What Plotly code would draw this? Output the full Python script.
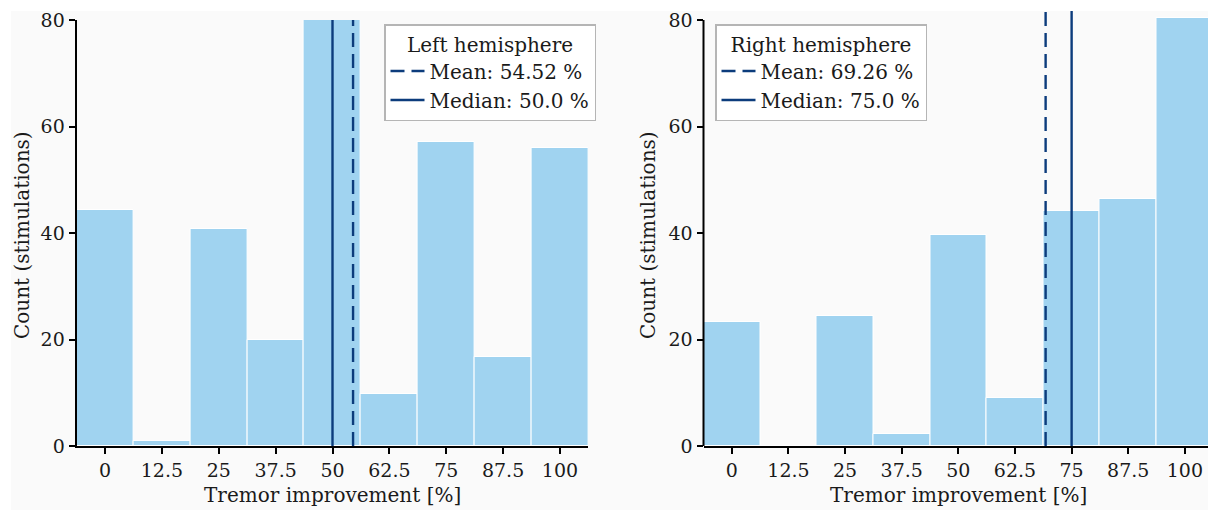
import plotly.graph_objects as go

# ---- data ----
bins = [0, 12.5, 25, 37.5, 50, 62.5, 75, 87.5, 100]
tick_labels = ["0", "12.5", "25", "37.5", "50", "62.5", "75", "87.5", "100"]
left_counts = [44.3, 0.9, 40.8, 19.9, 84.0, 9.8, 57.0, 16.8, 56.0]
right_counts = [23.3, 0.0, 24.4, 2.3, 39.7, 9.1, 44.2, 46.4, 80.4]
left_mean, left_median = 54.52, 50.0
right_mean, right_median = 69.26, 75.0
y_ticks = [0, 20, 40, 60, 80]

bar_color = "#a0d3f0"
line_color = "#0c3c7c"
bg = "#fafafa"
font_family = "DejaVu Serif"
txt = "#1a1a1a"

W, H = 1208, 511
left_yrange = [0, 80]
right_yrange = [0, 80 * (446 - 11) / (446 - 20)]

fig = go.Figure()

# bars
fig.add_trace(go.Bar(x=bins, y=left_counts, width=12.5, marker=dict(color=bar_color, line=dict(color="white", width=1)),
                     xaxis="x", yaxis="y", showlegend=False))
fig.add_trace(go.Bar(x=bins, y=right_counts, width=12.5, marker=dict(color=bar_color, line=dict(color="white", width=1)),
                     xaxis="x2", yaxis="y2", showlegend=False))

# mean / median lines
fig.add_trace(go.Scatter(x=[left_mean, left_mean], y=left_yrange, mode="lines",
                         line=dict(color=line_color, width=2.4, dash="14px,7px"),
                         name=f"Mean: {left_mean} %", xaxis="x", yaxis="y", legend="legend"))
fig.add_trace(go.Scatter(x=[left_median, left_median], y=left_yrange, mode="lines",
                         line=dict(color=line_color, width=2.4),
                         name=f"Median: {left_median} %", xaxis="x", yaxis="y", legend="legend"))
fig.add_trace(go.Scatter(x=[right_mean, right_mean], y=right_yrange, mode="lines",
                         line=dict(color=line_color, width=2.4, dash="14px,7px"),
                         name=f"Mean: {right_mean} %", xaxis="x2", yaxis="y2", legend="legend2"))
fig.add_trace(go.Scatter(x=[right_median, right_median], y=right_yrange, mode="lines",
                         line=dict(color=line_color, width=2.4),
                         name=f"Median: {right_median} %", xaxis="x2", yaxis="y2", legend="legend2"))

ydom_bottom = (H - 446) / H
left_xdom = [76.6 / W, 588.4 / W]
right_xdom = [703.5 / W, 1.0]

axis_common = dict(showline=True, linecolor="black", linewidth=2, ticks="outside", ticklen=6,
                   tickwidth=1.5, tickcolor="black", showgrid=False, zeroline=False, automargin=False,
                   tickfont=dict(size=19, family=font_family, color=txt))

fig.update_layout(
    width=W, height=H, margin=dict(l=0, r=0, t=0, b=0, autoexpand=False),
    paper_bgcolor="white", plot_bgcolor=bg,
    font=dict(family=font_family, size=20, color=txt),
    bargap=0,
    xaxis=dict(domain=left_xdom, range=[-6.25, 106.25], tickvals=bins, ticktext=tick_labels, anchor="y", **axis_common),
    yaxis=dict(domain=[ydom_bottom, (H - 20) / H], range=left_yrange, tickvals=y_ticks, anchor="x", **axis_common),
    xaxis2=dict(domain=right_xdom, range=[-6.25, 105.1], tickvals=bins, ticktext=tick_labels, anchor="y2", **axis_common),
    yaxis2=dict(domain=[ydom_bottom, (H - 11) / H], range=right_yrange, tickvals=y_ticks, anchor="x2",
                **{**axis_common, "showline": False}),
    legend=dict(x=596 / W, xanchor="right", y=(H - 24) / H, yanchor="top", bgcolor="white",
                bordercolor="#b5b5b5", borderwidth=1.5, itemwidth=34,
                title=dict(text="Left hemisphere", side="top center", font=dict(size=20)),
                font=dict(size=20), tracegroupgap=0),
    legend2=dict(x=715 / W, xanchor="left", y=(H - 24) / H, yanchor="top", bgcolor="white",
                 bordercolor="#b5b5b5", borderwidth=1.5, itemwidth=34,
                 title=dict(text="Right hemisphere", side="top center", font=dict(size=20)),
                 font=dict(size=20), tracegroupgap=0),
    shapes=[
        # grey figure background (the original picture's face)
        dict(type="rect", xref="paper", yref="paper", x0=11 / W, x1=1, y0=(H - 510) / H, y1=(H - 11) / H,
             fillcolor=bg, line=dict(width=0), layer="below"),
        # right y-axis spine, trimmed at the last tick
        dict(type="line", xref="x2 domain", yref="y2", x0=0, x1=0, y0=y_ticks[0], y1=y_ticks[-1],
             line=dict(color="black", width=2), layer="above"),
    ],
    annotations=[
        dict(text="Tremor improvement [%]", xref="x", yref="paper", x=50, y=(H - 495) / H,
             showarrow=False, font=dict(size=20), yanchor="middle"),
        dict(text="Tremor improvement [%]", xref="x2", yref="paper", x=50, y=(H - 495) / H,
             showarrow=False, font=dict(size=20), yanchor="middle"),
        dict(text="Count (stimulations)", xref="paper", yref="paper", x=22 / W, y=(H - 235) / H,
             textangle=-90, showarrow=False, font=dict(size=20), xanchor="center", yanchor="middle"),
        dict(text="Count (stimulations)", xref="paper", yref="paper", x=648 / W, y=(H - 235) / H,
             textangle=-90, showarrow=False, font=dict(size=20), xanchor="center", yanchor="middle"),
    ],
)

fig.write_html("out.html")
